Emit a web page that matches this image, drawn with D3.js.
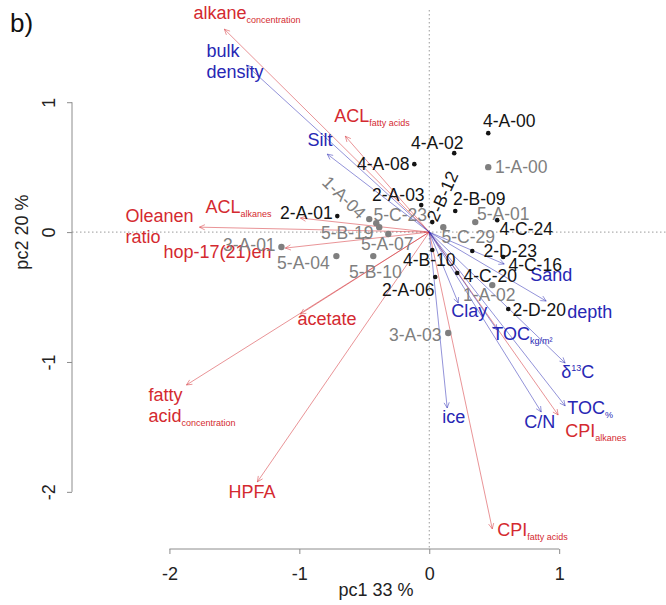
<!DOCTYPE html>
<html>
<head>
<meta charset="utf-8">
<script src="https://cdn.jsdelivr.net/npm/d3@7"></script>
<style>
	body { margin: 0; background: #fff; }
	svg { font-family: Arial, "Liberation Sans", sans-serif; }
</style>
</head>
<body>
<div id="vis"></div>
<script>
const WIDTH = 666;
const HEIGHT = 605;

// sample scores
const sampleNames = ['4-A-00', '1-A-00', '4-A-02', '4-A-08', '2-A-03', '2-B-12', '2-B-09', '5-A-01', '4-C-24',
	'5-C-29', '2-D-23', '4-C-16', '4-C-20', '1-A-02', '2-D-20', '4-B-10', '2-A-06', '3-A-03', '2-A-01',
	'1-A-04', '5-C-23', '5-B-19', '5-A-07', '5-B-10', '5-A-04', '3-A-01']
const samplePc1 = [0.454, 0.454, 0.192, -0.115, -0.062, 0.023, 0.20, 0.354, 0.523,
	0.108, 0.331, 0.569, 0.215, 0.485, 0.608, 0.023, 0.046, 0.146, -0.708,
	-0.462, -0.408, -0.385, -0.315, -0.431, -0.715, -1.138]
const samplePc2 = [0.762, 0.50, 0.608, 0.523, 0.208, 0.077, 0.162, 0.077, 0.092,
	0.038, -0.146, -0.192, -0.315, -0.408, -0.592, -0.138, -0.346, -0.777, 0.123,
	0.10, 0.069, 0.038, -0.015, -0.185, -0.185, -0.115]
const sampleGroup = ['b', 'g', 'b', 'b', 'b', 'b', 'b', 'g', 'b',
	'g', 'b', 'b', 'b', 'g', 'b', 'b', 'b', 'g', 'b',
	'g', 'g', 'g', 'g', 'g', 'g', 'g']
// where each sample label sits (label centre, pc units) and its tilt
const sampleLabelPc1 = [0.615, 0.708, 0.062, -0.354, -0.238, 0.100, 0.385, 0.569, 0.746,
	0.300, 0.623, 0.815, 0.469, 0.462, 0.846, 0.0, -0.162, -0.108, -0.946,
	-0.654, -0.223, -0.631, -0.323, -0.415, -0.969, -1.385]
const sampleLabelPc2 = [0.854, 0.50, 0.685, 0.523, 0.285, 0.277, 0.254, 0.138, 0.023,
	-0.038, -0.146, -0.254, -0.338, -0.485, -0.600, -0.215, -0.446, -0.792, 0.146,
	0.269, 0.131, -0.008, -0.092, -0.308, -0.238, -0.100]
const sampleLabelAngle = [0, 0, 0, 0, 0, -66, 0, 0, 0,
	0, 0, 0, 0, 0, 0, 0, 0, 0, 0,
	44, 0, 0, 0, 0, 0, 0]

// variable loadings  (_{} subscript, ^{} superscript, | new line)
const varNames = ['alkane_{concentration}', 'ACL_{fatty acids}', 'ACL_{alkanes}', 'Oleanen|ratio', 'hop-17(21)en',
	'acetate', 'fatty|acid_{concentration}', 'HPFA', 'CPI_{fatty acids}', 'CPI_{alkanes}',
	'bulk|density', 'Silt', 'Sand', 'depth', 'Clay', 'TOC_{kg/m²}', 'δ^{13}C', 'TOC_{%}', 'C/N', 'ice']
const varPc1 = [-1.577, -0.646, -0.992, -1.769, -1.108,
	-0.992, -1.869, -1.323, 0.485, 0.992,
	-1.408, -0.785, 0.577, 0.90, 0.223, 0.523, 1.046, 1.046, 0.862, 0.138]
const varPc2 = [1.562, 0.738, 0.108, 0.038, -0.123,
	-0.631, -1.177, -1.923, -2.285, -1.408,
	1.285, 0.60, -0.246, -0.531, -0.546, -0.754, -1.008, -1.338, -1.385, -1.354]
const varType = ['bio', 'bio', 'bio', 'bio', 'bio', 'bio', 'bio', 'bio', 'bio', 'bio',
	'soil', 'soil', 'soil', 'soil', 'soil', 'soil', 'soil', 'soil', 'soil', 'soil']
// label start (left edge, middle of first line) in pc units
const varLabelPc1 = [-1.815, -0.731, -1.723, -2.338, -2.046,
	-1.015, -2.162, -1.546, 0.523, 1.046,
	-1.715, -0.938, 0.777, 1.062, 0.169, 0.485, 1.015, 1.062, 0.731, 0.10]
const varLabelPc2 = [1.638, 0.846, 0.146, 0.077, -0.200,
	-0.715, -1.300, -2.046, -2.338, -1.577,
	1.346, 0.662, -0.377, -0.662, -0.654, -0.831, -1.123, -1.400, -1.508, -1.469]

const xTicks = [-2, -1, 0, 1]
const yTicks = [-2, -1, 0, 1]

const RED = '#d42a30', BLUE = '#2727b4'
const typeColor = d3.scaleOrdinal(['bio', 'soil'], [RED, BLUE])
const groupColor = d3.scaleOrdinal(['b', 'g'], ['#141414', '#7f7f7f'])

// plot region like R's
const box = { left: 72, right: 680, top: 10, bottom: 549 }
const x = d3.scaleLinear().domain([-2.75, 1.93]).range([box.left, box.right])
const y = d3.scaleLinear().domain([-2.44, 1.71]).range([box.bottom, box.top])

let svg = d3.select('#vis').append('svg')
	.attr('width', WIDTH)
	.attr('height', HEIGHT)

// zero lines
svg.append('line')
	.attr('x1', x(0)).attr('x2', x(0))
	.attr('y1', box.top).attr('y2', box.bottom)
	.attr('stroke', '#9a9a9a').attr('stroke-dasharray', '1.5,2.5')
svg.append('line')
	.attr('x1', box.left).attr('x2', WIDTH)
	.attr('y1', y(0)).attr('y2', y(0))
	.attr('stroke', '#9a9a9a').attr('stroke-dasharray', '1.5,2.5')

// axes
let xAxis = svg.append('g')
	.attr('transform', `translate(0,${box.bottom})`)
	.call(d3.axisBottom(x).tickValues(xTicks).tickSize(5).tickPadding(13).tickFormat(d3.format('d')))
xAxis.select('.domain').remove()
xAxis.append('line')
	.attr('x1', x(xTicks[0])).attr('x2', x(xTicks[xTicks.length - 1]))
	.attr('stroke', '#8c8c8c')
xAxis.selectAll('.tick line').attr('stroke', '#8c8c8c')
xAxis.selectAll('.tick text')
	.attr('fill', '#222')
	.style('font-size', '18px')
	.style('font-family', 'Arial, "Liberation Sans", sans-serif')
	.text(d => d < 0 ? '-' + Math.abs(d) : d)

let yAxis = svg.append('g')
	.attr('transform', `translate(${box.left},0)`)
	.call(d3.axisLeft(y).tickValues(yTicks).tickSize(5).tickFormat(d3.format('d')))
yAxis.select('.domain').remove()
yAxis.append('line')
	.attr('y1', y(yTicks[0])).attr('y2', y(yTicks[yTicks.length - 1]))
	.attr('stroke', '#8c8c8c')
yAxis.selectAll('.tick line').attr('stroke', '#8c8c8c')
yAxis.selectAll('.tick text')
	.attr('x', 0).attr('y', 0).attr('dy', 0)
	.attr('text-anchor', 'middle')
	.attr('transform', 'translate(-17,0) rotate(-90)')
	.attr('fill', '#222')
	.style('font-size', '18px')
	.style('font-family', 'Arial, "Liberation Sans", sans-serif')
	.text(d => d < 0 ? '-' + Math.abs(d) : d)

svg.append('text')
	.attr('x', (box.left + box.right) / 2).attr('y', 596)
	.attr('text-anchor', 'middle')
	.attr('fill', '#222')
	.style('font-size', '18px')
	.text('pc1 33 %')
svg.append('text')
	.attr('transform', `translate(28,${y(0)}) rotate(-90)`)
	.attr('text-anchor', 'middle')
	.attr('fill', '#222')
	.style('font-size', '18px')
	.text('pc2 20 %')

svg.append('text')
	.attr('x', 10).attr('y', 32)
	.attr('fill', '#111')
	.style('font-size', '26px')
	.text('b)')

// loadings arrows
const vars = varNames.map((n, i) => ({
	name: n, pc1: varPc1[i], pc2: varPc2[i], type: varType[i],
	lx: varLabelPc1[i], ly: varLabelPc2[i]
}))

function arrowPath(d) {
	let x0 = x(0), y0 = y(0), x1 = x(d.pc1), y1 = y(d.pc2)
	let a = Math.atan2(y1 - y0, x1 - x0)
	let L = 6, h = Math.PI / 7
	return `M${x0},${y0}L${x1},${y1}` +
		`M${x1 - L * Math.cos(a - h)},${y1 - L * Math.sin(a - h)}L${x1},${y1}` +
		`L${x1 - L * Math.cos(a + h)},${y1 - L * Math.sin(a + h)}`
}

svg.append('g').selectAll('path')
	.data(vars)
	.enter()
	.append('path')
	.attr('d', arrowPath)
	.attr('fill', 'none')
	.attr('stroke', d => typeColor(d.type))
	.attr('stroke-opacity', 0.5)
	.attr('stroke-width', 1)

// variable labels with sub/superscripts
function addRich(text, str) {
	let parts = str.split(/(_\{[^}]*\}|\^\{[^}]*\})/).filter(p => p !== '')
	let shift = 0
	parts.forEach(p => {
		let t = text.append('tspan')
		if (p[0] === '_' || p[0] === '^') {
			let s = p[0] === '_' ? 4 : -7
			t.attr('dy', s - shift).style('font-size', '9px').text(p.slice(2, -1))
			shift = s
		} else {
			t.attr('dy', -shift).text(p)
			shift = 0
		}
	})
}

let varLabels = svg.append('g')
vars.forEach(d => {
	d.name.split('|').forEach((line, k) => {
		let t = varLabels.append('text')
			.attr('x', x(d.lx))
			.attr('y', y(d.ly) + k * 21)
			.attr('fill', typeColor(d.type))
			.style('font-size', '18px')
		let inner = t.append('tspan').attr('dy', '0.36em')
		addRich(inner, line)
	})
})

// samples
const samples = sampleNames.map((n, i) => ({
	name: n, pc1: samplePc1[i], pc2: samplePc2[i], group: sampleGroup[i],
	lx: sampleLabelPc1[i], ly: sampleLabelPc2[i], angle: sampleLabelAngle[i]
}))

svg.append('g').selectAll('circle')
	.data(samples)
	.enter()
	.append('circle')
	.attr('cx', d => x(d.pc1))
	.attr('cy', d => y(d.pc2))
	.attr('r', d => d.group === 'b' ? 2.3 : 3.2)
	.attr('fill', d => groupColor(d.group))

svg.append('g').selectAll('text')
	.data(samples)
	.enter()
	.append('text')
	.attr('transform', d => `translate(${x(d.lx)},${y(d.ly)}) rotate(${d.angle})`)
	.attr('dy', '0.36em')
	.attr('text-anchor', 'middle')
	.attr('fill', d => groupColor(d.group))
	.style('font-size', '17.5px')
	.text(d => d.name)
</script>
</body>
</html>
